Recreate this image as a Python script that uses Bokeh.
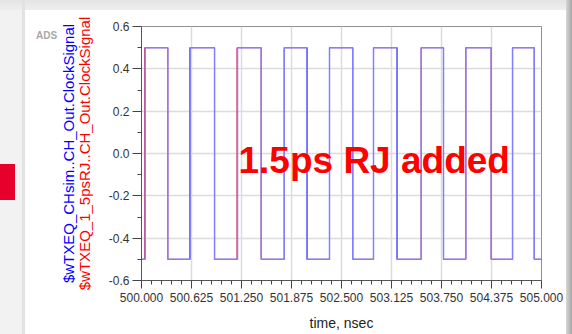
from bokeh.plotting import figure
from bokeh.models import (FixedTicker, LinearAxis, Label,
                          PrintfTickFormatter, Range1d)
from bokeh.embed import file_html
from bokeh.resources import INLINE

# ---- data ----
blue_rise = [500.046, 500.609, 501.200, 501.784, 502.350, 502.900, 503.496, 504.054, 504.638]
blue_fall = [500.329, 500.913, 501.496, 502.066, 502.641, 503.191, 503.775, 504.371, 504.909]
red_rise = [500.040, 500.603, 501.194, 501.784, 502.350, 502.900, 503.496, 504.054, 504.638]
red_fall = [500.329, 500.913, 501.496, 502.072, 502.641, 503.197, 503.775, 504.371, 504.909]
t_start, t_stop = 500.0, 505.0
v_low, v_high = -0.5, 0.5
x_ticks = [500.0, 500.625, 501.25, 501.875, 502.5, 503.125, 503.75, 504.375, 505.0]
y_ticks = [-0.6, -0.4, -0.2, 0.0, 0.2, 0.4, 0.6]
blue_name = "$wTXEQ_CHsim..CH_Out.ClockSignal"
red_name = "$wTXEQ_1_5psRJ..CH_Out.ClockSignal"
note = "1.5ps RJ added"
tool_tag = "ADS"

x_minor = [x_ticks[i] + k * (x_ticks[i + 1] - x_ticks[i]) / 5
           for i in range(len(x_ticks) - 1) for k in range(1, 5)]
y_minor = [(y_ticks[i] + y_ticks[i + 1]) / 2 for i in range(len(y_ticks) - 1)]


def square(rises, falls):
    xs, ys = [t_start], [v_low]
    for r, f in zip(rises, falls):
        xs += [r, r, f, f]
        ys += [v_low, v_high, v_high, v_low]
    xs.append(t_stop)
    ys.append(v_low)
    return xs, ys


FONT = "Liberation Sans"

# slide surroundings painted behind the (transparent) canvas
page_bg = ", ".join([
    "linear-gradient(#e8002d,#e8002d) 0px 164px / 15px 36px no-repeat",
    "linear-gradient(#ffffff,#ffffff) 25px 10px / 541px 324px no-repeat",
    "linear-gradient(#e2e2e2,#e2e2e2) 22px 0px / 3px 334px no-repeat",
    "linear-gradient(90deg,#d6d6d6,#a6a6a6) 566px 0px / 6px 334px no-repeat",
    "linear-gradient(#e4e4e4,#eeeeee) 0px 0px / 572px 10px no-repeat",
    "#f2f2f2",
])

p = figure(width=572, height=334, output_backend="svg", toolbar_location=None,
           x_range=Range1d(t_start, t_stop), y_range=Range1d(y_ticks[0], y_ticks[-1]),
           min_border_left=141, min_border_right=31, min_border_top=26, min_border_bottom=54,
           x_axis_label="time, nsec", y_axis_label=red_name,
           styles={"background": page_bg})
p.background_fill_color = "white"
p.border_fill_color = None
p.outline_line_color = "#909090"
p.outline_line_width = 1

# axes
xa = p.xaxis[0]
xa.ticker = FixedTicker(ticks=x_ticks, minor_ticks=x_minor)
xa.formatter = PrintfTickFormatter(format="%.3f")
ya = p.yaxis[0]
ya.ticker = FixedTicker(ticks=y_ticks, minor_ticks=y_minor)
ya.formatter = PrintfTickFormatter(format="%.1f")
for ax in (xa, ya):
    ax.axis_line_color = "#555555"
    ax.major_tick_line_color = "#444444"
    ax.minor_tick_line_color = "#444444"
    ax.major_tick_in = 0
    ax.minor_tick_in = 0
    ax.major_tick_out = 9
    ax.minor_tick_out = 4
    ax.major_label_text_font = FONT
    ax.major_label_text_font_size = "12px"
    ax.major_label_text_color = "#333333"
    ax.axis_label_text_font = FONT
    ax.axis_label_text_font_style = "normal"
xa.major_tick_out = 8
xa.major_label_standoff = 4
xa.axis_label_text_font_size = "14px"
xa.axis_label_text_color = "#222222"
xa.axis_label_standoff = 10
ya.major_label_standoff = 3
ya.axis_label_text_font_size = "15px"
ya.axis_label_text_color = "#ff0000"
ya.axis_label_standoff = 13

ya2 = LinearAxis(ticker=FixedTicker(ticks=[]), axis_label=blue_name,
                 axis_line_color=None, major_tick_line_color=None,
                 minor_tick_line_color=None, major_tick_out=0, minor_tick_out=0,
                 major_tick_in=0, minor_tick_in=0, axis_label_standoff=-4,
                 axis_label_text_font=FONT, axis_label_text_font_style="normal",
                 axis_label_text_font_size="15px", axis_label_text_color="#0000ff")
p.add_layout(ya2, "left")

# small tool tag, in the left border area
p.add_layout(Label(x=46, y=35, x_units="canvas", y_units="canvas", text=tool_tag,
                   text_align="center", text_baseline="middle", text_font=FONT,
                   text_font_size="10px", text_font_style="bold", text_color="#a8a8a8"),
             "left")

p.xgrid.ticker = FixedTicker(ticks=x_ticks)
p.ygrid.ticker = FixedTicker(ticks=y_ticks)
for g in (p.xgrid, p.ygrid):
    g.grid_line_color = "#dcdcdc"
    g.grid_line_width = 1.5

# traces
rx, ry = square(red_rise, red_fall)
bx, by = square(blue_rise, blue_fall)
p.line(rx, ry, line_color="#ff0000", line_width=1)
p.line(bx, by, line_color="#8080ff", line_width=1.5)

p.add_layout(Label(x=238, y=160, x_units="canvas", y_units="canvas", text=note,
                   text_align="left", text_baseline="alphabetic", text_font=FONT,
                   text_font_size="37px", text_font_style="bold", text_color="#ff0000"))

open("out.html", "w").write(file_html(p, INLINE))
